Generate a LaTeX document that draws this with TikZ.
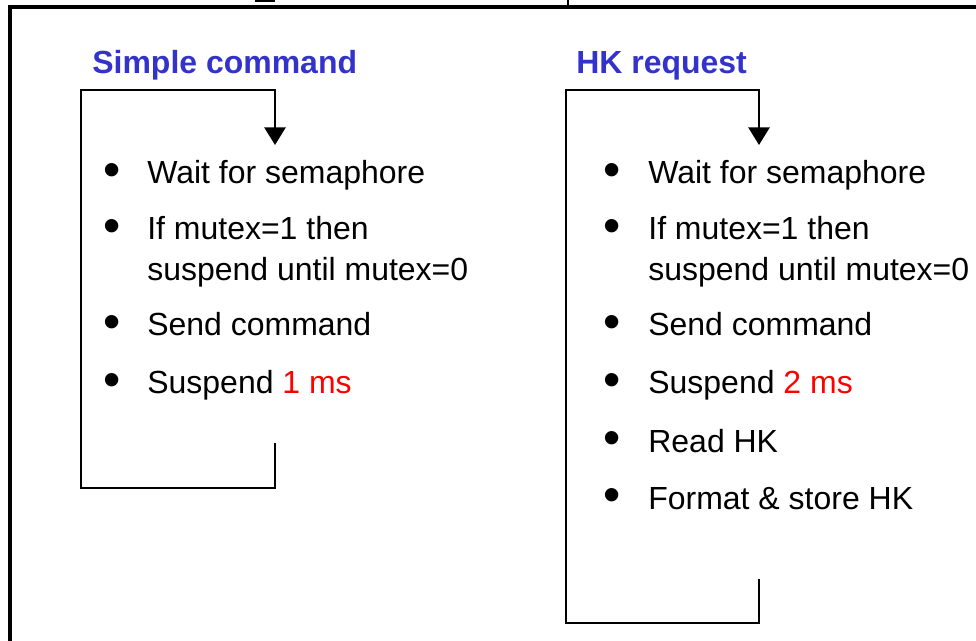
\documentclass[tikz,border=0pt]{standalone}
\usepackage{fontspec}
\setmainfont{Liberation Sans}
\usetikzlibrary{arrows.meta}
\definecolor{headblue}{RGB}{51,51,204}
\definecolor{msred}{RGB}{255,0,0}

\begin{document}
\begin{tikzpicture}[x=0.02cm, y=-0.02cm,
	head/.style={anchor=base west, inner sep=0pt, text=headblue, font=\fontsize{18.2}{22}\selectfont\bfseries},
	item/.style={anchor=base west, inner sep=0pt, font=\fontsize{18.2}{22}\selectfont},
	dot/.style={anchor=center, inner sep=0pt, font=\fontsize{28}{30}\selectfont},
	loop/.style={line width=1.2pt, -{Triangle[width=12pt, length=10pt]}},
	frame/.style={line width=2.5pt}]

	\useasboundingbox (0,0) rectangle (976,641);

	\draw[frame] (10,641) -- (10,7) -- (976,7);
	\draw[line width=1.7pt] (255,0.8) -- (275,0.8);
	\draw[line width=1pt] (568,0) -- (568,8);

	\node[head] (simple) at (92,74) {Simple command};
	\node[head] (hkreq) at (576,74) {HK request};

	\node[dot] (b1) at (112,175.5) {•};
	\node[dot] (b2) at (112,231.5) {•};
	\node[dot] (b3) at (112,327.5) {•};
	\node[dot] (b4) at (112,385.5) {•};
	\node[item] (wait) at (147,184) {Wait for semaphore};
	\node[item] (mutex) at (147,240) {If mutex=1 then};
	\node[item] (mutexb) at (147,281) {suspend until mutex=0};
	\node[item] (send) at (147,336) {Send command};
	\node[item] (susp) at (147,394) {Suspend \textcolor{msred}{1 ms}};

	\node[dot] (hb1) at (612,175.5) {•};
	\node[dot] (hb2) at (612,231.5) {•};
	\node[dot] (hb3) at (612,327.5) {•};
	\node[dot] (hb4) at (612,385.5) {•};
	\node[dot] (hb5) at (612,443.5) {•};
	\node[dot] (hb6) at (612,500.5) {•};
	\node[item] (hkwait) at (648,184) {Wait for semaphore};
	\node[item] (hkmutex) at (648,240) {If mutex=1 then};
	\node[item] (hkmutexb) at (648,281) {suspend until mutex=0};
	\node[item] (hksend) at (648,336) {Send command};
	\node[item] (hksusp) at (648,394) {Suspend \textcolor{msred}{2 ms}};
	\node[item] (hkread) at (648,452) {Read HK};
	\node[item] (hkfmt) at (648,509) {Format \& store HK};

	\coordinate (cmdout) at (275,443);
	\coordinate (cmdfoot) at (81,488);
	\coordinate (cmdhead) at (81,90);
	\coordinate (cmdin) at (275,145);
	\draw[loop] (cmdout) |- (cmdfoot) -- (cmdhead) -| (cmdin);

	\coordinate (hkout) at (759,579);
	\coordinate (hkfoot) at (566,623);
	\coordinate (hkhead) at (566,90);
	\coordinate (hkin) at (759,145);
	\draw[loop] (hkout) |- (hkfoot) -- (hkhead) -| (hkin);

\end{tikzpicture}
\end{document}
